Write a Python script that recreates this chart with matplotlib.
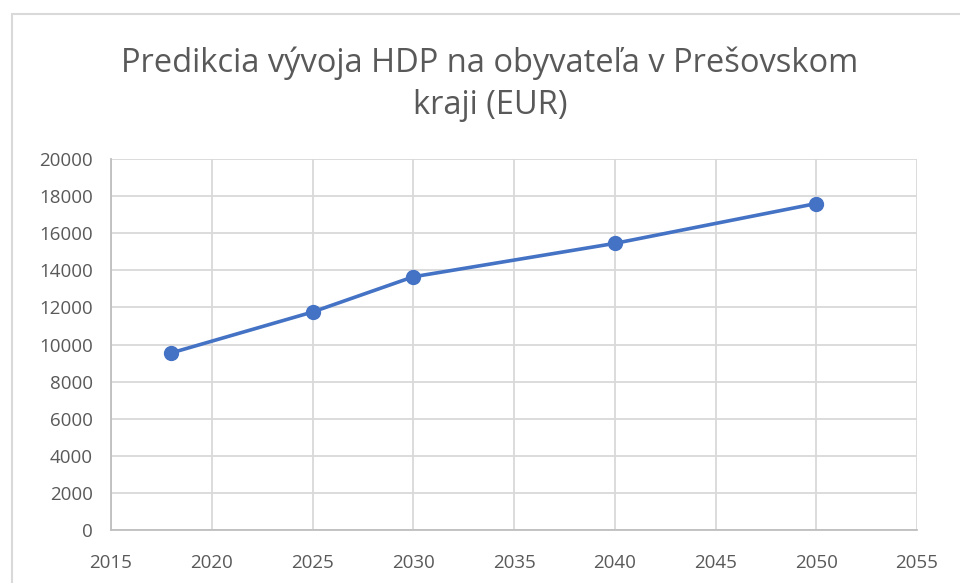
import matplotlib.pyplot as plt
from matplotlib.patches import Rectangle

# data
years = [2018, 2025, 2030, 2040, 2050]
hdp = [9550, 11750, 13650, 15450, 17600]
xticks = [2015, 2020, 2025, 2030, 2035, 2040, 2045, 2050, 2055]
yticks = [0, 2000, 4000, 6000, 8000, 10000, 12000, 14000, 16000, 18000, 20000]
title = 'Predikcia vývoja HDP na obyvateľa v Prešovskom\nkraji (EUR)'

plt.rcParams['font.family'] = ['Open Sans', 'DejaVu Sans']

W, H = 960, 583
fig = plt.figure(figsize=(W / 100, H / 100), dpi=100)
fig.patch.set_facecolor('white')

# chart frame (cropped screenshot border)
fig.patches.append(Rectangle((12 / W, -0.1), 1.2, 1 - 14 / H + 0.1,
                             transform=fig.transFigure, fill=False,
                             edgecolor='#d9d9d9', linewidth=1.5))

ax = fig.add_axes([111 / W, 53 / H, 806 / W, 371 / H])
ax.plot(years, hdp, color='#4472C4', linewidth=2.6, marker='o',
        markersize=10, zorder=3, clip_on=False)

ax.set_xlim(2015, 2055)
ax.set_ylim(0, 20000)
ax.set_xticks(xticks)
ax.set_yticks(yticks)
ax.grid(True, color='#d9d9d9', linewidth=1.3)
ax.set_axisbelow(True)
for s in ['top', 'right']:
    ax.spines[s].set_visible(False)
for s in ['left', 'bottom']:
    ax.spines[s].set_color('#bfbfbf')
    ax.spines[s].set_linewidth(1.3)
ax.tick_params(length=0, labelsize=13.5, labelcolor='#595959')
ax.tick_params(axis='y', pad=13)
ax.tick_params(axis='x', pad=17)

fig.text(490 / W, 1 - 84 / H, title, ha='center', va='center',
         fontsize=23.5, color='#595959', linespacing=1.38)

fig.savefig('out.png', dpi=100)
